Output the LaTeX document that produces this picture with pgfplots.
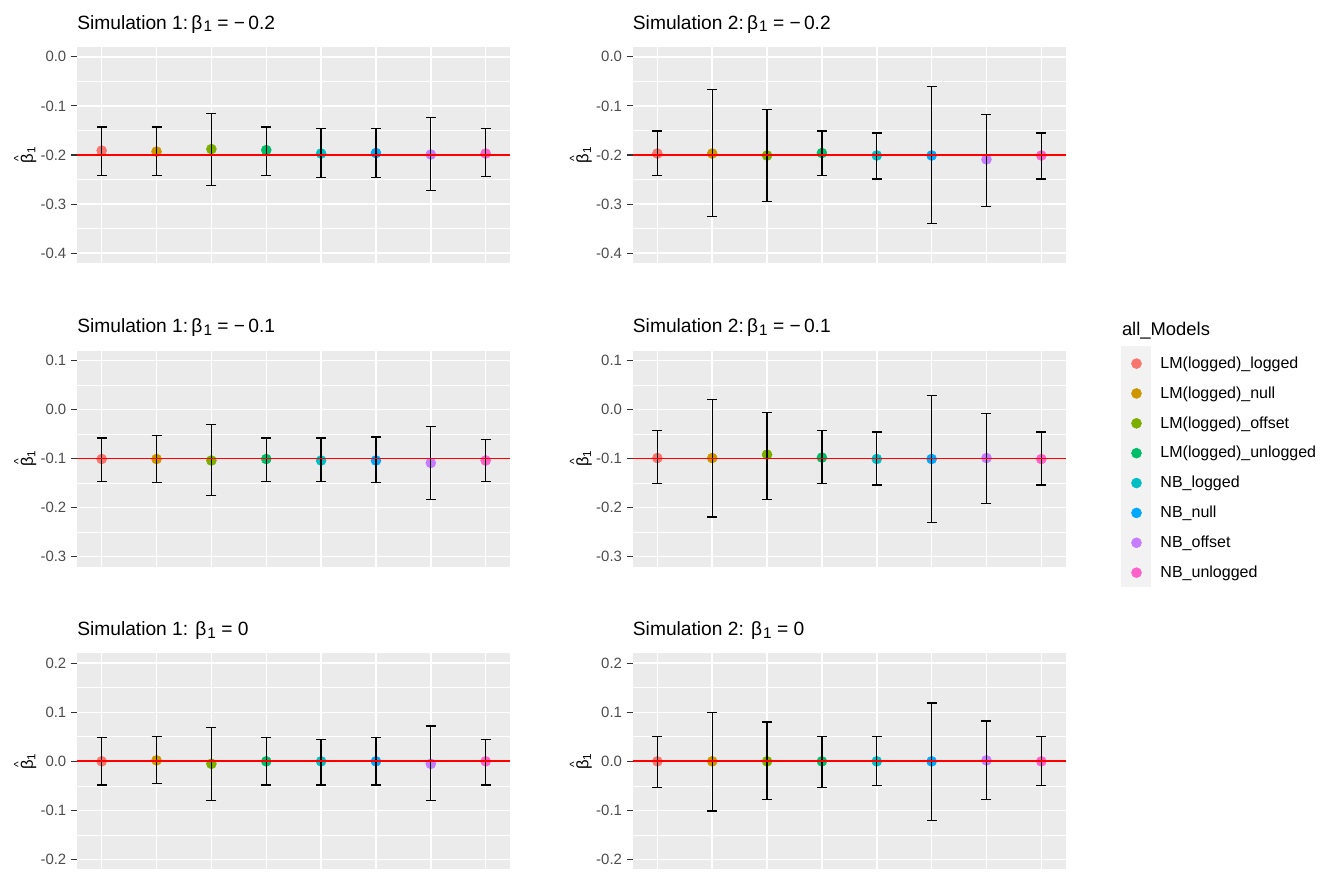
\documentclass[border=0pt]{standalone}
\usepackage{pgfplots}
\pgfplotsset{compat=1.18}
\usepackage{pgfplotstable}
\usepackage{fontspec}
\setmainfont{Liberation Sans}

\definecolor{ggbg}{HTML}{EBEBEB}
\definecolor{gg20}{HTML}{333333}
\definecolor{gg30}{HTML}{4D4D4D}
\definecolor{keybg}{HTML}{F2F2F2}
\definecolor{c1}{HTML}{F8766D}
\definecolor{c2}{HTML}{CD9600}
\definecolor{c3}{HTML}{7CAE00}
\definecolor{c4}{HTML}{00BE67}
\definecolor{c5}{HTML}{00BFC4}
\definecolor{c6}{HTML}{00A9FF}
\definecolor{c7}{HTML}{C77CFF}
\definecolor{c8}{HTML}{FF61CC}
\definecolor{refred}{HTML}{FF0000}

\newcommand{\bhat}{\ooalign{β\cr\hidewidth\raisebox{0.62em}{\fontsize{9}{9}\selectfont\textasciicircum}\hidewidth\cr}\textsubscript{1}}
\newcommand{\bsub}{β\kern0.8pt{\fontsize{11.5}{11.5}\selectfont\raisebox{-0.35ex}{1}}}

\pgfplotstableread{
x y lo hi c
1 -0.191 -0.241 -0.143 a
2 -0.193 -0.241 -0.143 b
3 -0.188 -0.262 -0.115 c
4 -0.190 -0.241 -0.143 d
5 -0.197 -0.246 -0.146 e
6 -0.196 -0.246 -0.146 f
7 -0.199 -0.273 -0.124 g
8 -0.197 -0.243 -0.146 h
}\tA
\pgfplotstableread{
x y lo hi c
1 -0.197 -0.241 -0.151 a
2 -0.197 -0.326 -0.066 b
3 -0.201 -0.294 -0.108 c
4 -0.196 -0.241 -0.151 d
5 -0.201 -0.249 -0.155 e
6 -0.201 -0.339 -0.061 f
7 -0.209 -0.305 -0.117 g
8 -0.201 -0.249 -0.155 h
}\tB
\pgfplotstableread{
x y lo hi c
1 -0.101 -0.146 -0.058 a
2 -0.101 -0.149 -0.053 b
3 -0.104 -0.175 -0.030 c
4 -0.101 -0.146 -0.058 d
5 -0.104 -0.146 -0.058 e
6 -0.104 -0.149 -0.056 f
7 -0.109 -0.183 -0.035 g
8 -0.104 -0.146 -0.062 h
}\tC
\pgfplotstableread{
x y lo hi c
1 -0.099 -0.151 -0.043 a
2 -0.099 -0.219 0.021 b
3 -0.092 -0.183 -0.006 c
4 -0.098 -0.151 -0.043 d
5 -0.101 -0.154 -0.046 e
6 -0.101 -0.231 0.029 f
7 -0.099 -0.191 -0.009 g
8 -0.101 -0.154 -0.046 h
}\tD
\pgfplotstableread{
x y lo hi c
1 0.000 -0.048 0.048 a
2 0.002 -0.045 0.050 b
3 -0.005 -0.080 0.069 c
4 0.000 -0.048 0.048 d
5 0.000 -0.048 0.045 e
6 0.000 -0.048 0.048 f
7 -0.005 -0.080 0.072 g
8 0.000 -0.048 0.045 h
}\tE
\pgfplotstableread{
x y lo hi c
1 0.000 -0.054 0.051 a
2 0.000 -0.101 0.099 b
3 0.000 -0.077 0.080 c
4 0.000 -0.054 0.051 d
5 0.000 -0.050 0.051 e
6 0.000 -0.120 0.119 f
7 0.002 -0.077 0.082 g
8 0.000 -0.050 0.051 h
}\tF

\pgfplotsset{
  gg/.style={
    clip mode=individual,
    scale only axis, width=325pt, height=162pt,
    xmin=0.55, xmax=8.45,
    xtick={1,...,8}, xticklabels={},
    x tick style={draw=none},
    axis line style={draw=none},
    axis background/.style={fill=ggbg},
    xmajorgrids, ymajorgrids, yminorgrids,
    major grid style={white, line width=1.1pt},
    minor grid style={white, line width=0.55pt},
    minor y tick num=1,
    minor tick length=0pt,
    major tick length=4.5pt,
    tick align=outside,
    tick pos=left,
    y tick style={color=gg20, line width=0.8pt},
    yticklabel style={font=\fontsize{11.2}{13}\selectfont, text=gg30},
    ylabel={\bhat},
    ylabel style={at={(axis description cs:-0.113,0.5)}, anchor=center, font=\fontsize{12.5}{14}\selectfont},
    every axis title/.style={at={(axis description cs:0,1)}, anchor=base west, inner sep=0pt, yshift=13.5pt, font=\fontsize{14.4}{17}\selectfont},
  },
  pts/.style={scatter, only marks, scatter src=explicit symbolic, mark=*, mark size=3.75pt,
    scatter/classes={
      a={draw=c1,fill=c1},
      b={draw=c2,fill=c2},
      c={draw=c3,fill=c3},
      d={draw=c4,fill=c4},
      e={draw=c5,fill=c5},
      f={draw=c6,fill=c6},
      g={draw=c7,fill=c7},
      h={draw=c8,fill=c8}}},
  ebar/.style={draw=none, mark=none, forget plot,
    error bars/.cd, y dir=both, y explicit,
    error bar style={draw=black, solid, line width=0.9pt},
    error mark options={draw=black, rotate=90, mark size=3.75pt, line width=0.9pt}},
  ref/.style={draw=refred, solid, line width=1.1pt, mark=none, forget plot},
  row1/.style={ymin=-0.42, ymax=0.02, ytick={-0.4,-0.3,-0.2,-0.1,0}, yticklabels={-0.4,-0.3,-0.2,-0.1,0.0}},
  row2/.style={ymin=-0.32, ymax=0.12, ytick={-0.3,-0.2,-0.1,0,0.1}, yticklabels={-0.3,-0.2,-0.1,0.0,0.1}},
  row3/.style={ymin=-0.22, ymax=0.22, ytick={-0.2,-0.1,0,0.1,0.2}, yticklabels={-0.2,-0.1,0.0,0.1,0.2}},
}

\newcommand{\panel}[2]{%
  \addplot[pts] table[x=x,y=y,meta=c] {#1};
  \addplot[ebar] table[x=x, y=y, y error plus expr=\thisrow{hi}-\thisrow{y}, y error minus expr=\thisrow{y}-\thisrow{lo}] {#1};
  \addplot[ref] coordinates {(0.55,#2) (8.45,#2)};
}

\begin{document}
\begin{tikzpicture}
\path[use as bounding box] (0pt,0pt) rectangle (1000.5pt,-655.5pt);
\fill[keybg] (840.75pt,-259.5pt) rectangle (863.25pt,-440.25pt);

\begin{axis}[gg, row1, at={(57.75pt,-197.25pt)}, anchor=south west,
  title={Simulation 1:\,\bsub{} = −\,0.2}]
\panel{\tA}{-0.2}
\end{axis}

\begin{axis}[gg, row1, at={(474.5pt,-197.25pt)}, anchor=south west,
  title={Simulation 2:\,\bsub{} = −\,0.2}]
\panel{\tB}{-0.2}
\end{axis}

\begin{axis}[gg, row2, at={(57.75pt,-424.9pt)}, anchor=south west,
  title={Simulation 1:\,\bsub{} = −\,0.1}]
\panel{\tC}{-0.1}
\end{axis}

\begin{axis}[gg, row2, at={(474.5pt,-424.9pt)}, anchor=south west,
  title={Simulation 2:\,\bsub{} = −\,0.1},
  legend style={at={(1.1505,1.01)}, anchor=north west, draw=none, fill=none,
    inner sep=0pt, row sep=0pt, column sep=14.25pt,
    nodes={inner sep=0pt, minimum height=22.4pt, anchor=west, font=\fontsize{12}{14}\selectfont, text=black}},
  legend cell align=left]
\panel{\tD}{-0.1}
\legend{LM(logged)\_logged,LM(logged)\_null,LM(logged)\_offset,LM(logged)\_unlogged,NB\_logged,NB\_null,NB\_offset,NB\_unlogged}
\end{axis}

\begin{axis}[gg, row3, at={(57.75pt,-652pt)}, anchor=south west,
  title={Simulation 1: \bsub{} = 0}]
\panel{\tE}{0}
\addplot[draw=refred, line width=1.6pt, forget plot] coordinates {(0.55,0) (8.45,0)};
\end{axis}

\begin{axis}[gg, row3, at={(474.5pt,-652pt)}, anchor=south west,
  title={Simulation 2: \bsub{} = 0}]
\panel{\tF}{0}
\addplot[draw=refred, line width=1.6pt, forget plot] coordinates {(0.55,0) (8.45,0)};
\end{axis}

\node[anchor=west, font=\fontsize{13.8}{16}\selectfont, inner sep=0pt] at (841.3pt,-248pt) {all\_Models};
\end{tikzpicture}
\end{document}
